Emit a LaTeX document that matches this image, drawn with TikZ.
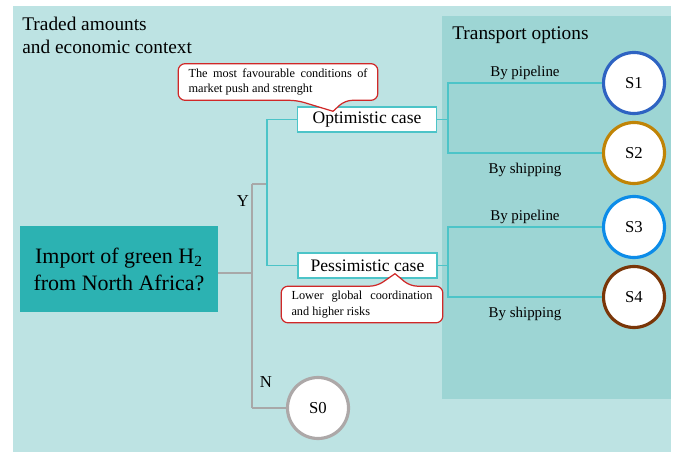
\documentclass[tikz,border=0pt]{standalone}
\usepackage{fontspec}
\setmainfont{Liberation Serif}
\definecolor{bgout}{HTML}{BDE3E3}
\definecolor{bgin}{HTML}{9DD5D4}
\definecolor{impteal}{HTML}{2CB2B2}
\definecolor{tealline}{HTML}{4CC4C8}
\definecolor{grayline}{HTML}{A8A8A8}
\definecolor{notered}{HTML}{D02828}
\definecolor{sone}{HTML}{2E63C2}
\definecolor{stwo}{HTML}{C08406}
\definecolor{sthree}{HTML}{0C8CE8}
\definecolor{sfour}{HTML}{7A3608}
\definecolor{szero}{HTML}{ADA8A8}

\begin{document}
\begin{tikzpicture}[
  case/.style={draw=tealline,fill=white,line width=0.8pt,minimum width=2.78cm,minimum height=0.5cm,inner sep=0pt,font=\fontsize{10}{12}\selectfont},
  note/.style={align=justify,inner xsep=0.2cm,inner ysep=0.06cm,minimum height=0.72cm,font=\fontsize{7}{8.8}\selectfont},
  notebox/.style={draw=notered,fill=white,line width=0.7pt,rounded corners=4pt},
  scen/.style={circle,draw,fill=white,line width=1.8pt,minimum size=1.22cm,inner sep=0pt,font=\fontsize{9.5}{11}\selectfont},
  branch/.style={draw=tealline,line width=0.6pt},
  trunk/.style={draw=grayline,line width=0.7pt},
  lbl/.style={font=\fontsize{8.5}{10}\selectfont,yshift=-2pt},
  head/.style={inner sep=0pt,align=left,font=\fontsize{11}{13}\selectfont}
]
\useasboundingbox (0,0) rectangle (13.52,9.04);
% fonds
\fill[bgout] (0.26,0) rectangle (13.42,8.92);
\fill[bgin] (8.84,1.06) rectangle (13.42,8.72);
\node[head,anchor=north west] (title) at (0.44,8.71) {Traded amounts\\and economic context};
\node[head,anchor=base west] (trans) at (9.04,8.24) {Transport options};

% question et cas
\node[fill=impteal,minimum width=3.96cm,minimum height=1.72cm,align=center,inner sep=0pt,font=\fontsize{12.5}{15.3}\selectfont] (imp) at (2.38,3.66) {Import of green H\textsubscript{2}\\from North Africa?};
\node[case] (opt) at (7.34,6.65) {Optimistic case};
\node[case] (pes) at (7.35,3.73) {Pessimistic case};
\node[font=\fontsize{9.5}{11}\selectfont] (yes) at (4.86,5.02) {Y};
\node[font=\fontsize{9.5}{11}\selectfont] (no) at (5.32,1.40) {N};

% scenarios
\node[scen,draw=sone] (S1) at (12.68,7.38) {S1};
\node[scen,draw=stwo] (S2) at (12.68,5.98) {S2};
\node[scen,draw=sthree] (S3) at (12.68,4.50) {S3};
\node[scen,draw=sfour] (S4) at (12.68,3.10) {S4};
\node[scen,draw=szero] (S0) at (6.36,0.88) {S0};

\coordinate (j) at (5.04,3.58);
\coordinate (jy) at (5.04,5.36);
\coordinate (jn) at (5.04,0.88);
\coordinate (ky) at (5.34,5.36);
\coordinate (fo) at (8.96,6.65);
\coordinate (fp) at (8.96,3.73);

\draw[trunk] (imp.east |- j) -- (j);
\draw[trunk] (jy) -- (jn);
\draw[trunk] (jy) -- (ky);
\draw[trunk] (jn) -- (S0);
\draw[branch] (opt) -| (ky) |- (pes);
\draw[branch] (opt) -- (fo);
\draw[branch] (pes) -- (fp);
\draw[branch] (S1) -| node[lbl,pos=0.25,above] {By pipeline} (fo) |- node[lbl,pos=0.75,below] {By shipping} (S2);
\draw[branch] (S3) -| node[lbl,pos=0.25,above] {By pipeline} (fp) |- node[lbl,pos=0.75,below] {By shipping} (S4);

% bulles
\node[note,text width=3.58cm] (fav) at (5.56,7.40) {The most favourable conditions of market push and strenght};
\draw[notebox] (fav.west) -- (fav.north west) -- (fav.north east) -- (fav.south east) -- ([xshift=1.34cm]fav.south) [sharp corners] -- ([xshift=-0.68cm,yshift=-0.1cm]opt.north) [rounded corners=4pt] -- ([xshift=0.38cm]fav.south) -- (fav.south west) -- cycle;
\node[note,text width=3.58cm] at (fav) {The most favourable conditions of market push and strenght};
\node[note,text width=2.82cm] (risk) at (7.24,2.95) {Lower global coordination and higher risks};
\draw[notebox] (risk.west) -- (risk.south west) -- (risk.south east) -- (risk.north east) -- ([xshift=0.96cm]risk.north) [sharp corners] -- ([xshift=0.55cm,yshift=0.1cm]pes.south) [rounded corners=4pt] -- ([xshift=0.30cm]risk.north) -- (risk.north west) -- cycle;
\node[note,text width=2.82cm] at (risk) {Lower global coordination and higher risks};
\end{tikzpicture}
\end{document}
